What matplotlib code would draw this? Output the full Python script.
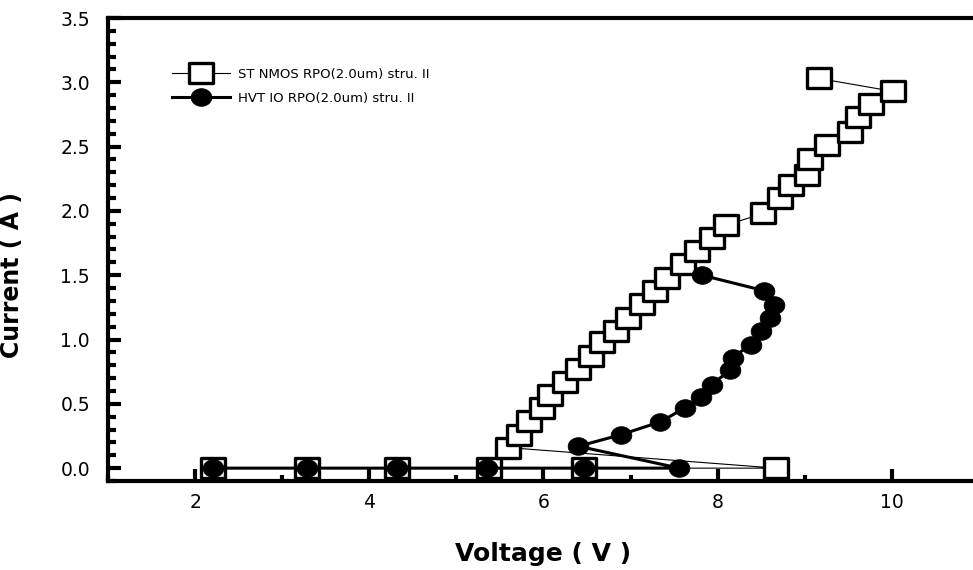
import matplotlib
matplotlib.use("Agg")
import matplotlib.pyplot as plt
import numpy as np
from matplotlib.path import Path
from matplotlib.ticker import MultipleLocator, FormatStrFormatter

# ST NMOS RPO(2.0um) stru. II  (open squares)
st_v = [2.20, 3.29, 4.32, 5.37, 6.47, 8.67,
        5.59, 5.72, 5.83, 5.98, 6.07, 6.25, 6.40, 6.55, 6.67, 6.83, 6.97,
        7.13, 7.28, 7.42, 7.60, 7.76, 7.94, 8.10,
        8.52, 8.71, 8.84, 9.03, 9.06, 9.26, 9.52, 9.61, 9.76, 10.01, 9.16]
st_i = [0.0, 0.0, 0.0, 0.0, 0.0, 0.0,
        0.16, 0.26, 0.37, 0.47, 0.57, 0.67, 0.77, 0.87, 0.98, 1.07, 1.17,
        1.28, 1.38, 1.48, 1.59, 1.69, 1.79, 1.89,
        1.98, 2.10, 2.20, 2.28, 2.40, 2.51, 2.61, 2.73, 2.83, 2.93, 3.03]

# HVT IO RPO(2.0um) stru. II  (filled circles)
hvt_v = [2.20, 3.29, 4.32, 5.35, 6.47, 7.56,
         6.40, 6.89, 7.34, 7.63, 7.81, 7.93, 8.14, 8.17, 8.38, 8.50,
         8.60, 8.65, 8.53, 7.82]
hvt_i = [0.0, 0.0, 0.0, 0.0, 0.0, 0.0,
         0.17, 0.26, 0.36, 0.47, 0.55, 0.65, 0.76, 0.86, 0.96, 1.07,
         1.17, 1.27, 1.38, 1.50]

labels = ["ST NMOS RPO(2.0um) stru. II", "HVT IO RPO(2.0um) stru. II"]

# slightly wide symbols, like the original plot
rect = Path([(-1, -0.8), (1, -0.8), (1, 0.8), (-1, 0.8), (-1, -0.8)], closed=True)
t = np.linspace(0, 2 * np.pi, 41)
ell = Path(np.column_stack([np.cos(t), 0.85 * np.sin(t)]), closed=True)

plt.rcParams['font.family'] = ['DejaVu Sans']

fig = plt.figure(figsize=(9.73, 5.70), dpi=100)
ax = fig.add_axes([108 / 973, 1 - 481 / 570, 871 / 973, 463 / 570])

ax.plot(st_v, st_i, color='black', lw=0.8, marker=rect, ms=17.8,
        mfc='white', mec='black', mew=2.4, label=labels[0], zorder=2)
ax.plot(hvt_v, hvt_i, color='black', lw=2.2, marker=ell, ms=15,
        mfc='black', mec='black', mew=0.5, label=labels[1], zorder=3)

ax.set_xlim(1, 11)
ax.set_ylim(-0.1, 3.5)
ax.xaxis.set_major_locator(MultipleLocator(2))
ax.xaxis.set_minor_locator(MultipleLocator(1))
ax.yaxis.set_major_locator(MultipleLocator(0.5))
ax.yaxis.set_minor_locator(MultipleLocator(0.1))
ax.yaxis.set_major_formatter(FormatStrFormatter('%.1f'))

for s in ['left', 'bottom', 'top']:
    ax.spines[s].set_linewidth(3)
ax.spines['right'].set_visible(False)

ax.tick_params(axis='both', which='both', direction='in', width=3,
               top=False, right=False)
ax.tick_params(axis='x', which='major', length=8.5, labelsize=13.5, pad=9)
ax.tick_params(axis='x', which='minor', length=4)
ax.tick_params(axis='y', which='major', length=9, labelsize=13.5, pad=13)
ax.tick_params(axis='y', which='minor', length=5.5)

ax.set_xlabel("Voltage ( V )", fontsize=18, fontweight='bold')
ax.xaxis.set_label_coords(0.5, -0.132)
ax.set_ylabel("Current ( A )", fontsize=17, fontweight='bold')
ax.yaxis.set_label_coords(-0.096, 0.445)

ax.legend(loc='upper left', bbox_to_anchor=(172 / 973, 1 - 68 / 570),
          bbox_transform=fig.transFigure, frameon=False, fontsize=9.5,
          handlelength=4.4, handletextpad=0.6, borderpad=0,
          borderaxespad=0, labelspacing=0.8)

fig.savefig('out.png', dpi=100)
